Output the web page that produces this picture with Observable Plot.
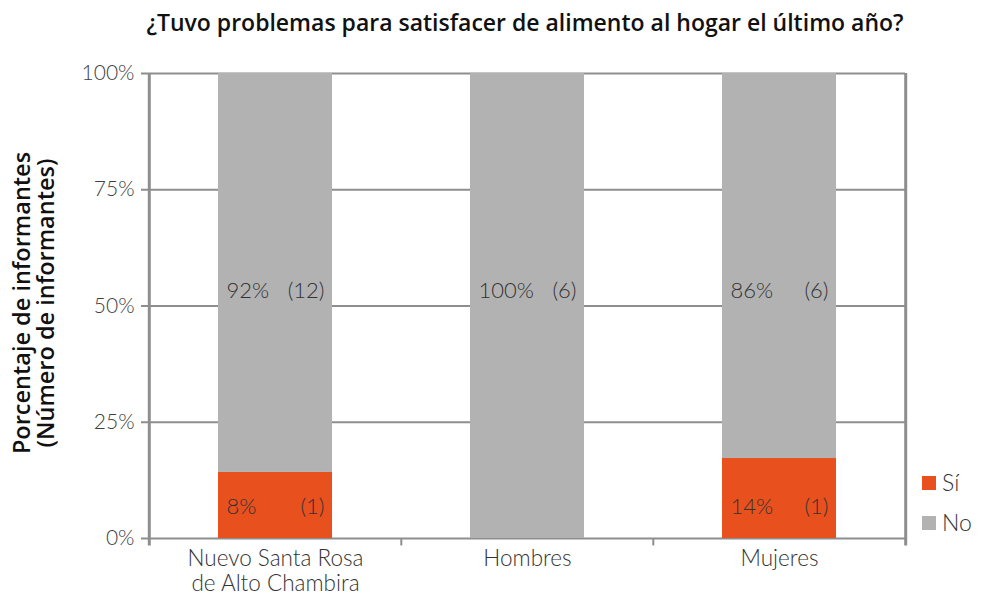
<!DOCTYPE html>
<html>
<head>
<meta charset="utf-8">
<script src="https://cdn.jsdelivr.net/npm/d3@7"></script>
<script src="https://cdn.jsdelivr.net/npm/@observablehq/plot@0.6"></script>
<style>
  html, body { margin: 0; padding: 0; background: #fff; }
  #wrap { position: relative; width: 985px; height: 603px; font-family: Lato, "Open Sans", sans-serif; }
  .leg { position: absolute; left: 922px; display: flex; align-items: center; font-size: 23px; font-weight: 300; color: #333; line-height: 1; }
  .leg span.sw { display: inline-block; width: 14px; height: 14px; margin-right: 6px; }
</style>
</head>
<body>
<div id="wrap"></div>
<script>
const categories = ["Nuevo Santa Rosa de Alto Chambira", "Hombres", "Mujeres"];
const xTickLabels = ["Nuevo Santa Rosa\nde Alto Chambira", "Hombres", "Mujeres"];
const responses = ["Sí", "No"];
const colors = ["#E8501E", "#B2B2B2"];
const siValues = [14.2, 0, 17.2];
const noValues = [85.8, 100, 82.8];
const siPct = ["8%", "", "14%"];
const siCount = ["(1)", "", "(1)"];
const noPct = ["92%", "100%", "86%"];
const noCount = ["(12)", "(6)", "(6)"];
const yTicks = [0, 25, 50, 75, 100];
const title = "¿Tuvo problemas para satisfacer de alimento al hogar el último año?";
const yLabel = "Porcentaje de informantes\n(Número de informantes)";

const rows = [];
categories.forEach((c, i) => {
  rows.push({cat: c, resp: "Sí", value: siValues[i]});
  rows.push({cat: c, resp: "No", value: noValues[i]});
});
const siLabels = categories.map((c, i) => ({cat: c, pct: siPct[i], n: siCount[i], y: 6.8}));
const noLabels = categories.map((c, i) => ({cat: c, pct: noPct[i], n: noCount[i], y: 53.2}));

const font = "Lato, 'Open Sans', sans-serif";
const boldFont = "'Open Sans', Lato, sans-serif";
const grid = "#8e8e8e";
const half = 126.2;

const chart = Plot.plot({
  width: 985,
  height: 603,
  marginTop: 73,
  marginBottom: 65,
  marginLeft: 148,
  marginRight: 80,
  style: {fontFamily: font, background: "#fff", overflow: "visible"},
  x: {domain: categories, paddingInner: 0.548, paddingOuter: 0.274, label: null},
  y: {domain: [0, 100], label: null},
  color: {domain: responses, range: colors},
  marks: [
    Plot.ruleY(yTicks, {stroke: grid, strokeWidth: 2, insetLeft: -7}),
    Plot.barY(rows, {x: "cat", y: "value", fill: "resp", order: responses}),
    Plot.ruleX([categories[0]], {x: d => d, dx: -half, y1: -1.6, y2: 100, stroke: grid, strokeWidth: 3}),
    Plot.ruleX([categories[2]], {x: d => d, dx: half, y1: -1.6, y2: 100, stroke: grid, strokeWidth: 3}),
    Plot.ruleX(categories.slice(1), {x: d => d, dx: -half, y1: -1.6, y2: 0, stroke: grid, strokeWidth: 2}),
    Plot.axisY({ticks: yTicks, tickSize: 0, tickPadding: 14, tickFormat: d => d + "%", fontSize: 21, fontWeight: 300, fill: "#404040"}),
    Plot.axisX({tickSize: 0, tickPadding: 10, tickFormat: d => xTickLabels[categories.indexOf(d)], fontSize: 22.5, fontWeight: 300, fill: "#333", lineHeight: 1.1}),
    Plot.text(noLabels, {x: "cat", y: "y", text: "pct", dx: -49, textAnchor: "start", fontSize: 22, fontWeight: 300, fill: "#333"}),
    Plot.text(noLabels, {x: "cat", y: "y", text: "n", dx: 49, textAnchor: "end", fontSize: 22, fontWeight: 300, fill: "#333"}),
    Plot.text(siLabels, {x: "cat", y: "y", text: "pct", dx: -49, textAnchor: "start", fontSize: 22, fontWeight: 300, fill: "#333"}),
    Plot.text(siLabels, {x: "cat", y: "y", text: "n", dx: 49, textAnchor: "end", fontSize: 22, fontWeight: 300, fill: "#333"}),
    Plot.text([title], {text: d => d, frameAnchor: "top", lineAnchor: "middle", dx: -2, dy: -50, fontSize: 23, fontWeight: 600, fontFamily: boldFont, fill: "#111"}),
    Plot.text([yLabel], {text: d => d, frameAnchor: "left", dx: -114, dy: -3, rotate: -90, lineAnchor: "middle", textAnchor: "middle", fontSize: 23.5, fontWeight: 600, fontFamily: boldFont, fill: "#111", lineHeight: 1.0})
  ]
});

const wrap = document.getElementById("wrap");
wrap.appendChild(chart);
responses.forEach((r, i) => {
  const d = document.createElement("div");
  d.className = "leg";
  d.style.top = (471 + i * 40) + "px";
  d.innerHTML = `<span class="sw" style="background:${colors[i]}"></span>${r}`;
  wrap.appendChild(d);
});
</script>
</body>
</html>
